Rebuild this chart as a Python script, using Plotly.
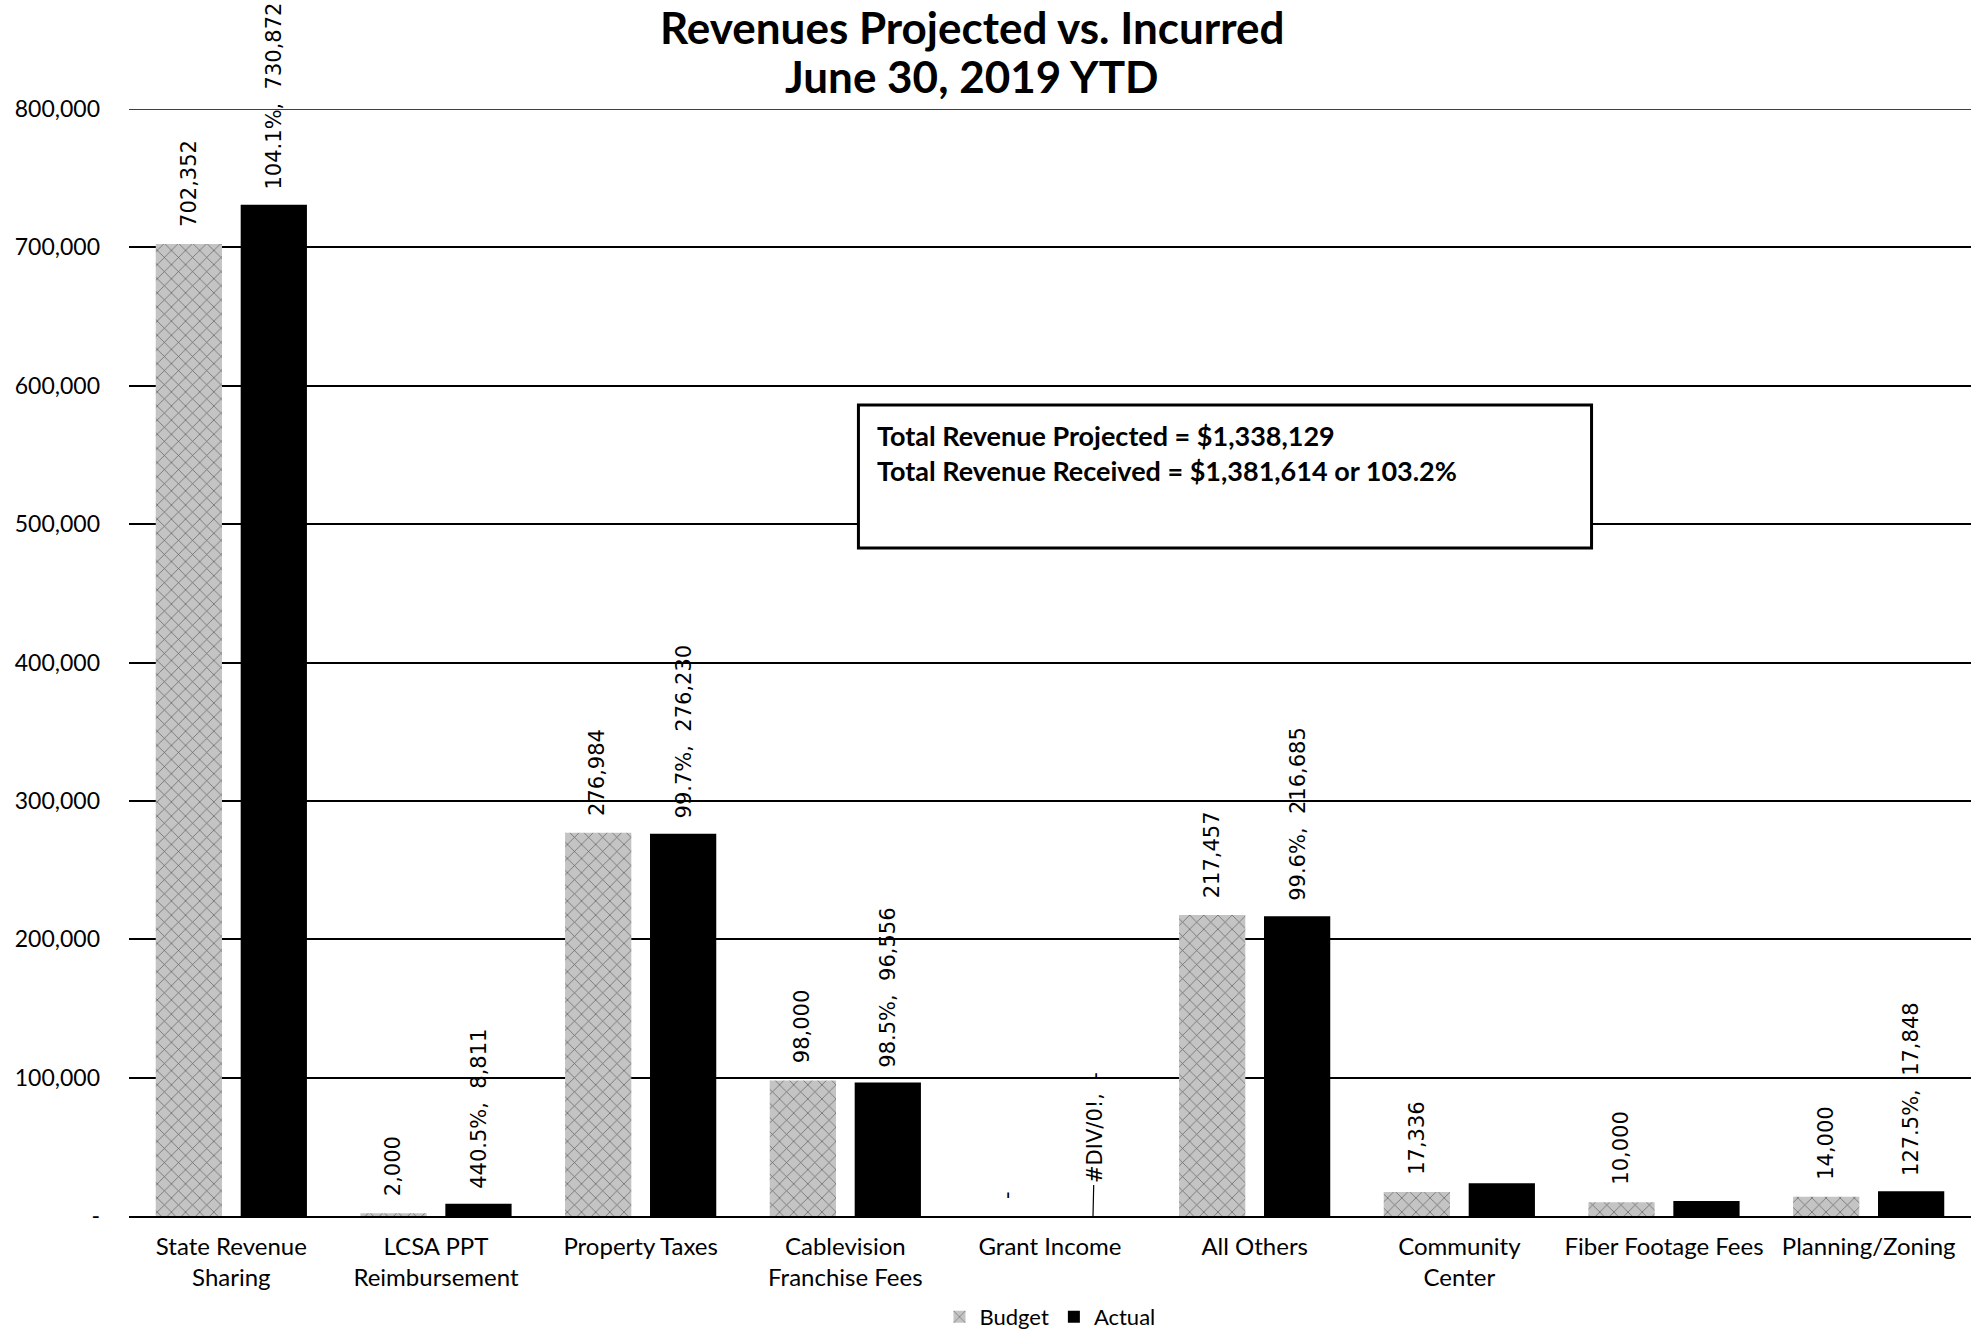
import plotly.graph_objects as go

# Revenue categories (two-line labels use <br>)
categories = [
    "State Revenue<br>Sharing",
    "LCSA PPT<br>Reimbursement",
    "Property Taxes",
    "Cablevision<br>Franchise Fees",
    "Grant Income",
    "All Others",
    "Community<br>Center",
    "Fiber Footage Fees",
    "Planning/Zoning",
]

budget = [702352, 2000, 276984, 98000, 0, 217457, 17336, 10000, 14000]
actual = [730872, 8811, 276230, 96556, 0, 216685, 23700, 10912, 17848]

# Percent-of-budget labels shown on the actual bars (None = no label)
actual_pct = ["104.1%", "440.5%", "99.7%", "98.5%", "#DIV/0!", "99.6%", None, None, "127.5%"]

y_ticks = [0, 100000, 200000, 300000, 400000, 500000, 600000, 700000, 800000]
y_tick_text = ["-", "100,000", "200,000", "300,000", "400,000", "500,000",
               "600,000", "700,000", "800,000"]

title_lines = ["Revenues Projected vs. Incurred", "June 30, 2019 YTD"]
summary_lines = [
    "Total Revenue Projected = $1,338,129",
    "Total Revenue Received = $1,381,614 or 103.2%",
]

AX_FONT = "Lato"
LBL_FONT = "DejaVu Sans"
LBL_SIZE = 21


def fmt(v):
    return "-" if v == 0 else f"{v:,}"


fig = go.Figure()
fig.add_trace(go.Bar(
    name="Budget", x=categories, y=budget,
    marker=dict(
        color="#c4c4c4",
        line=dict(width=0),
        pattern=dict(shape="x", fgcolor="#000000", bgcolor="#c4c4c4",
                     size=10, solidity=0.14, fillmode="overlay"),
    ),
))
fig.add_trace(go.Bar(
    name="Actual", x=categories, y=actual,
    marker=dict(color="#000000", line=dict(width=0)),
))

BAR_SHIFT = 43
annotations = []
for cat, b, a, p in zip(categories, budget, actual, actual_pct):
    annotations.append(dict(
        x=cat, y=b, xref="x", yref="y", text=fmt(b), textangle=-90,
        showarrow=False, xanchor="center", yanchor="bottom",
        xshift=-BAR_SHIFT, yshift=15,
        font=dict(family=LBL_FONT, size=LBL_SIZE, color="#000"),
    ))
    if p is None:
        continue
    label = f"{p},\u00a0 {fmt(a)}"
    if a == 0:
        # zero actual: label lifted off the axis with a leader line
        annotations.append(dict(
            x=cat, y=a, xref="x", yref="y", text=label, textangle=-90,
            showarrow=True, arrowhead=0, arrowwidth=1.2, arrowcolor="#000",
            ax=2, ay=-88, xshift=BAR_SHIFT,
            font=dict(family=LBL_FONT, size=LBL_SIZE, color="#000"),
        ))
    else:
        annotations.append(dict(
            x=cat, y=a, xref="x", yref="y", text=label, textangle=-90,
            showarrow=False, xanchor="center", yanchor="bottom",
            xshift=BAR_SHIFT, yshift=13,
            font=dict(family=LBL_FONT, size=LBL_SIZE, color="#000"),
        ))

# Chart title (two centred bold lines)
annotations.append(dict(
    x=0.4577, y=1.0985, xref="paper", yref="paper", text=f"<b>{title_lines[0]}</b>",
    showarrow=False, xanchor="center", yanchor="top", borderpad=0,
    font=dict(family=AX_FONT, size=44, color="#000"),
))
annotations.append(dict(
    x=0.4577, y=1.0298, xref="paper", yref="paper", text=f"<b>{title_lines[1]}</b>",
    showarrow=False, xanchor="center", yanchor="middle",
    font=dict(family=AX_FONT, size=44, color="#000"),
))

# Summary text box
annotations.append(dict(
    x=0.405, y=0.722, xref="paper", yref="paper",
    text="<br>".join(f"<b>{s}</b>" for s in summary_lines),
    showarrow=False, xanchor="left", yanchor="top", align="left",
    font=dict(family=AX_FONT, size=27, color="#000"),
))

shapes = [
    dict(type="rect", xref="paper", yref="paper",
         x0=0.396, x1=0.794, y0=0.6034, y1=0.7326,
         line=dict(color="#000", width=3), fillcolor="white", layer="above"),
    # top gridline at the upper edge of the value range
    dict(type="line", xref="paper", yref="y", x0=0, x1=1, y0=800000, y1=800000,
         line=dict(color="#000", width=1.5), layer="below"),
]

fig.update_layout(
    width=1984, height=1333,
    margin=dict(l=129, r=13, t=109, b=117, autoexpand=False),
    paper_bgcolor="white", plot_bgcolor="white",
    barmode="group", bargap=0.17, bargroupgap=0.22,
    showlegend=True,
    legend=dict(orientation="h", x=0.5, xanchor="center",
                yref="container", y=0.012, yanchor="middle",
                font=dict(family=AX_FONT, size=22, color="#000"),
                itemwidth=30, traceorder="normal"),
    annotations=annotations,
    shapes=shapes,
    font=dict(family=AX_FONT, color="#000"),
)
fig.update_xaxes(
    showgrid=False, showline=True, linecolor="#000", linewidth=2,
    ticks="", tickfont=dict(family=AX_FONT, size=24, color="#000"),
    ticklabelstandoff=8, automargin=False,
)
fig.update_yaxes(
    range=[0, 800000], tickvals=y_ticks, ticktext=y_tick_text,
    showgrid=True, gridcolor="#000", gridwidth=1.5,
    zeroline=False, showline=False, ticks="",
    tickfont=dict(family=AX_FONT, size=23, color="#000"),
    ticklabelstandoff=28, automargin=False,
)

fig.write_html("out.html")
